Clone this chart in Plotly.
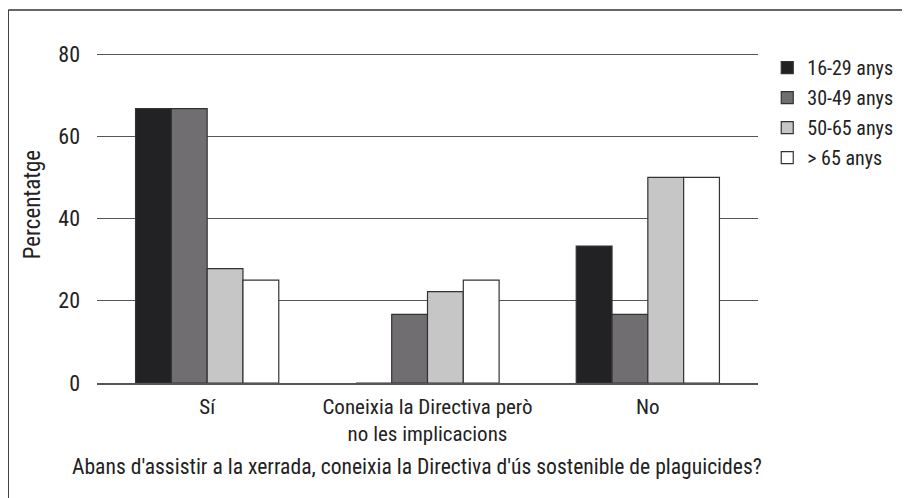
import plotly.graph_objects as go

categories = ["Sí", "Coneixia la Directiva però<br>no les implicacions", "No"]
series_names = ["16-29 anys", "30-49 anys", "50-65 anys", "> 65 anys"]
values_16_29 = [66.7, 0, 33.3]
values_30_49 = [66.7, 16.7, 16.7]
values_50_65 = [27.8, 22.2, 50.0]
values_65 = [25.0, 25.0, 50.0]
colors = ["#222224", "#716e71", "#c6c6c6", "#ffffff"]
y_ticks = [0, 20, 40, 60, 80]
x_title = "Abans d'assistir a la xerrada, coneixia la Directiva d'ús sostenible de plaguicides?"
y_title = "Percentatge"

FONT = "Roboto Condensed, Liberation Sans Narrow, sans-serif"

fig = go.Figure()
for i, (name, vals, col) in enumerate(zip(series_names, [values_16_29, values_30_49, values_50_65, values_65], colors)):
    fig.add_trace(go.Bar(
        x=categories, y=vals, name=name, legendgroup=f"g{i}",
        marker=dict(color=col, line=dict(color="#333333", width=1.2)),
    ))

# page body has an 8px margin; figure sized to fit the viewport
W, H = 902, 490
ml, mt = 89, 45
pw, ph = 663, 330
mr, mb = W - ml - pw, H - mt - ph

fig.update_layout(
    width=W, height=H,
    margin=dict(l=ml, r=mr, t=mt, b=mb, pad=0),
    paper_bgcolor="white", plot_bgcolor="white",
    barmode="group", bargap=0.35, bargroupgap=0,
    font=dict(family=FONT, size=21, color="#222222"),
    showlegend=True,
    legend=dict(x=1.014, y=1.015, xanchor="left", yanchor="top", traceorder="grouped",
                font=dict(size=20), bgcolor="rgba(0,0,0,0)", tracegroupgap=1),
    xaxis=dict(showgrid=False, showline=True, linecolor="#555555", linewidth=1.5,
               ticks="", tickfont=dict(size=21), ticklabelstandoff=4),
    yaxis=dict(range=[0, 80.25], tickvals=y_ticks, showgrid=True, gridcolor="#555555", gridwidth=1,
               zeroline=False, showline=False, ticks="", ticklabelstandoff=16,
               tickfont=dict(size=22)),
)

fig.add_annotation(text=x_title, xref="paper", yref="paper", x=0.484, y=-0.252,
                   xanchor="center", yanchor="middle", showarrow=False, font=dict(size=21.6))
fig.add_annotation(text=y_title, xref="paper", yref="paper", x=-0.098, y=0.539, textangle=-90,
                   xanchor="center", yanchor="middle", showarrow=False, font=dict(size=23))

# outer frame (left and top edges)
x_left = (0 - ml) / pw
y_top = 1 + (mt - 2) / ph
fig.add_shape(type="line", xref="paper", yref="paper", x0=x_left, x1=x_left, y0=y_top, y1=-1,
              line=dict(color="#333333", width=1.3))
fig.add_shape(type="line", xref="paper", yref="paper", x0=x_left, x1=2, y0=y_top, y1=y_top,
              line=dict(color="#333333", width=1.3))

fig.write_html("out.html")
